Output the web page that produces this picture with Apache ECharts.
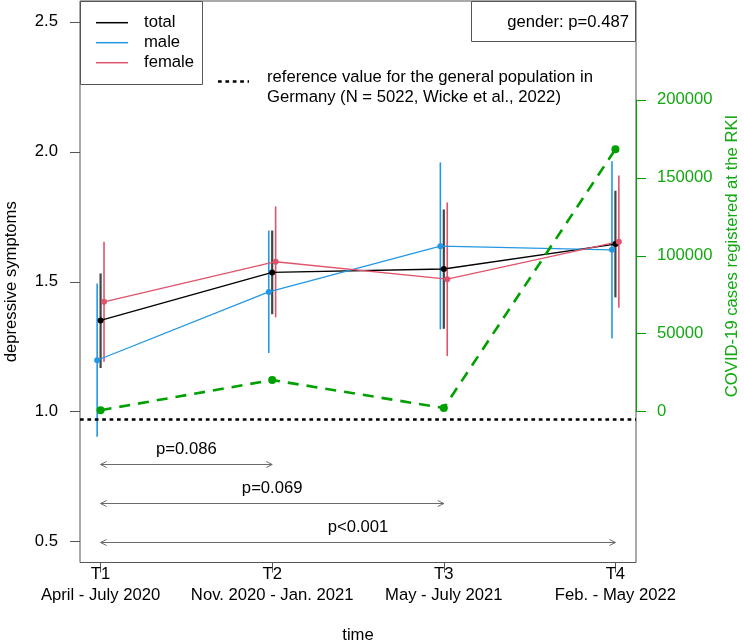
<!DOCTYPE html>
<html>
<head>
<meta charset="utf-8">
<script src="https://cdn.jsdelivr.net/npm/echarts@6/dist/echarts.min.js"></script>
<style>
html,body{margin:0;padding:0;background:#fff;}
#chart{width:744px;height:642px;}
</style>
</head>
<body>
<div id="chart"></div>
<script>
// ---- data ----
const timepoints = [1, 2, 3, 4];
const timeLabels = ['T1', 'T2', 'T3', 'T4'];
const periodLabels = ['April - July 2020', 'Nov. 2020 - Jan. 2021', 'May - July 2021', 'Feb. - May 2022'];

const totalMean = [1.351, 1.536, 1.549, 1.645];
const totalLow  = [1.168, 1.375, 1.319, 1.440];
const totalHigh = [1.532, 1.697, 1.778, 1.850];

const maleMean = [1.198, 1.461, 1.637, 1.623];
const maleLow  = [0.904, 1.226, 1.317, 1.282];
const maleHigh = [1.493, 1.697, 1.959, 1.964];

const femaleMean = [1.423, 1.577, 1.510, 1.654];
const femaleLow  = [1.192, 1.363, 1.214, 1.400];
const femaleHigh = [1.654, 1.790, 1.805, 1.909];

const covidCases = [1000, 20300, 2400, 168300];
const referenceValue = 0.97;

const yTicks = [0.5, 1.0, 1.5, 2.0, 2.5];
const covidTicks = [0, 50000, 100000, 150000, 200000];

const compFrom = [1, 1, 1];
const compTo = [2, 3, 4];
const compLevel = [0.8, 0.65, 0.5];
const compLabels = ['p=0.086', 'p=0.069', 'p<0.001'];

const genderText = 'gender: p=0.487';
const refLegendText = 'reference value for the general population in\nGermany (N = 5022, Wicke et al., 2022)';

// ---- layout / style ----
const FONT = 'Liberation Sans, Arial, sans-serif';
const FS = 16.67;
const C_TOTAL = '#000000', C_MALE = '#2297E6', C_FEMALE = '#DF536B', C_GREEN = '#00A000';
const C_BOX = '#555555';
const jitter = {male: -0.02, total: 0, female: 0.02};

const xMin = 0.88, xMax = 4.12;
const yMin = 0.42, yMax = 2.58;
// right axis aligned so that 0 cases sits at 1.0 and 50000 cases spans 0.3 units
const toRight = v => (v - 1.0) / 0.3 * 50000;

function pts(means, off) { return timepoints.map((t, i) => [t + off, means[i]]); }
function bars(lo, hi, off) { return timepoints.map((t, i) => [t + off, lo[i], hi[i]]); }

function errRender(color, width) {
  return function (params, api) {
    const p1 = api.coord([api.value(0), api.value(1)]);
    const p2 = api.coord([api.value(0), api.value(2)]);
    return {type: 'line', shape: {x1: p1[0], y1: p1[1], x2: p2[0], y2: p2[1]},
      style: {stroke: color, lineWidth: width}};
  };
}

function errSeries(lo, hi, off, color, width) {
  return {type: 'custom', data: bars(lo, hi, off), renderItem: errRender(color, width),
    encode: {x: 0, y: [1, 2]}, silent: true, z: 2};
}

function lineSeries(name, means, off, color) {
  return {name, type: 'line', data: pts(means, off), symbol: 'circle', symbolSize: 6,
    lineStyle: {color, width: 1.3}, itemStyle: {color}, z: 3, silent: true};
}

const compData = compFrom.map((f, i) => [f, compTo[i], compLevel[i], compLabels[i]]);

const chart = echarts.init(document.getElementById('chart'), null, {renderer: 'canvas'});
const option = {
  animation: false,
  backgroundColor: '#fff',
  textStyle: {fontFamily: FONT},
  grid: {left: 80, right: 108, top: 1, bottom: 79.5, show: true, borderColor: C_BOX, borderWidth: 1,
    backgroundColor: 'transparent', containLabel: false, outerBoundsMode: 'none'},
  legend: {
    data: ['total', 'male', 'female'],
    orient: 'vertical', left: 80, top: 1,
    padding: [11.7, 0, 0, 16],
    icon: 'rect', itemWidth: 32, itemHeight: 1.5, itemGap: 0,
    textStyle: {fontFamily: FONT, fontSize: FS, color: '#000', lineHeight: 20, padding: [0, 0, 0, 11]},
    selectedMode: false
  },
  xAxis: {
    type: 'value', min: xMin, max: xMax,
    name: 'time', nameLocation: 'middle', nameGap: 64,
    nameTextStyle: {fontFamily: FONT, fontSize: FS, color: '#000'},
    axisLine: {show: false, onZero: false},
    splitLine: {show: false},
    axisTick: {show: true, length: 10, lineStyle: {color: C_BOX}, customValues: timepoints},
    axisLabel: {
      customValues: timepoints, margin: 1,
      fontFamily: FONT, fontSize: FS, color: '#000', lineHeight: 21,
      formatter: v => { const i = timepoints.indexOf(v); return i < 0 ? '' : timeLabels[i] + '\n' + periodLabels[i]; }
    }
  },
  yAxis: [{
    type: 'value', min: yMin, max: yMax,
    name: 'depressive symptoms', nameLocation: 'middle', nameGap: 60, nameRotate: 90,
    nameTextStyle: {fontFamily: FONT, fontSize: FS, color: '#000'},
    axisLine: {show: false, onZero: false}, splitLine: {show: false},
    axisTick: {show: true, length: 10, lineStyle: {color: C_BOX}, customValues: yTicks},
    axisLabel: {customValues: yTicks, margin: 22, fontFamily: FONT, fontSize: FS, color: '#000',
      formatter: v => v.toFixed(1)}
  }, {
    type: 'value', position: 'right', min: toRight(yMin), max: toRight(yMax),
    axisLine: {show: false, onZero: false}, splitLine: {show: false},
    axisTick: {show: true, length: 10, lineStyle: {color: C_GREEN}, customValues: covidTicks},
    axisLabel: {customValues: covidTicks, margin: 21, fontFamily: FONT, fontSize: FS, color: '#12A812',
      formatter: v => String(v)}
  }],
  graphic: [
    {type: 'rect', shape: {x: 80.5, y: 1.5, width: 122, height: 83}, style: {fill: '#fff', stroke: C_BOX, lineWidth: 1}, z: 1},
    {type: 'rect', shape: {x: 471.5, y: 1.5, width: 164, height: 40}, style: {fill: '#fff', stroke: C_BOX, lineWidth: 1}, z: 1},
    {type: 'text', x: 629, y: 22, style: {text: genderText, fontFamily: FONT, fontSize: FS, fill: '#000', align: 'right', verticalAlign: 'middle'}, z: 5},
    {type: 'line', shape: {x1: 218, y1: 81.5, x2: 249, y2: 81.5}, style: {stroke: '#000', lineWidth: 2.5, lineDash: [3.7, 3.7]}, z: 5},
    {type: 'text', x: 267, y: 67, style: {text: refLegendText, fontFamily: FONT, fontSize: FS, fill: '#000', align: 'left', verticalAlign: 'top', lineHeight: 20.5}, z: 5},
    {type: 'text', x: 732, y: 256, rotation: Math.PI / 2, style: {text: 'COVID-19 cases registered at the RKI', fontFamily: FONT, fontSize: FS, fill: '#12A812', align: 'center', verticalAlign: 'middle'}, z: 5}
  ],
  series: [
    // green right-axis line segment (0 .. 200000)
    {type: 'custom', yAxisIndex: 1, silent: true, z: 4,
      data: [[xMax, covidTicks[0], covidTicks[covidTicks.length - 1]]],
      encode: {x: 0, y: [1, 2]},
      renderItem: (params, api) => {
        const a = api.coord([api.value(0), api.value(1)]);
        const b = api.coord([api.value(0), api.value(2)]);
        return {type: 'line', shape: {x1: a[0] + 0.5, y1: a[1], x2: b[0] + 0.5, y2: b[1]}, style: {stroke: C_GREEN, lineWidth: 1}};
      }},
    // reference line
    {type: 'line', data: [], silent: true,
      markLine: {silent: true, symbol: 'none', label: {show: false},
        lineStyle: {color: '#000', width: 2.5, type: [3.7, 3.7]},
        data: [{yAxis: referenceValue}]}},
    errSeries(maleLow, maleHigh, jitter.male, C_MALE, 1.6),
    errSeries(totalLow, totalHigh, jitter.total, '#444', 2.2),
    errSeries(femaleLow, femaleHigh, jitter.female, C_FEMALE, 1.6),
    lineSeries('total', totalMean, jitter.total, C_TOTAL),
    lineSeries('male', maleMean, jitter.male, C_MALE),
    lineSeries('female', femaleMean, jitter.female, C_FEMALE),
    {name: 'covid', type: 'line', yAxisIndex: 1, data: timepoints.map((t, i) => [t, covidCases[i]]),
      symbol: 'circle', symbolSize: 8, lineStyle: {color: C_GREEN, width: 2.6, type: [11, 8]},
      itemStyle: {color: C_GREEN}, z: 4, silent: true},
    // pairwise comparison arrows
    {type: 'custom', silent: true, z: 3, data: compData, encode: {x: [0, 1], y: 2},
      renderItem: (params, api) => {
        const a = api.coord([api.value(0), api.value(2)]);
        const b = api.coord([api.value(1), api.value(2)]);
        const y = Math.round(a[1]) + 0.5;
        const hl = 6, hw = 3;
        const col = '#6a6a6a';
        const lbl = compData[params.dataIndex][3];
        return {type: 'group', children: [
          {type: 'line', shape: {x1: a[0], y1: y, x2: b[0], y2: y}, style: {stroke: col, lineWidth: 1}},
          {type: 'polyline', shape: {points: [[a[0] + hl, y - hw], [a[0], y], [a[0] + hl, y + hw]]}, style: {stroke: col, lineWidth: 1, fill: null}},
          {type: 'polyline', shape: {points: [[b[0] - hl, y - hw], [b[0], y], [b[0] - hl, y + hw]]}, style: {stroke: col, lineWidth: 1, fill: null}},
          {type: 'text', x: (a[0] + b[0]) / 2, y: y - 15.5, style: {text: lbl, fontFamily: FONT, fontSize: FS, fill: '#000', align: 'center', verticalAlign: 'middle'}}
        ]};
      }}
  ]
};
chart.setOption(option);
</script>
</body>
</html>
